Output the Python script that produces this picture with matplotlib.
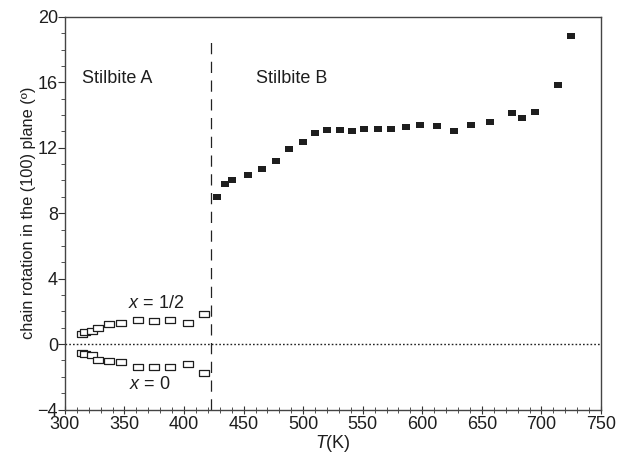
import numpy as np
import matplotlib
matplotlib.use('Agg')
import matplotlib.pyplot as plt
from matplotlib.ticker import MultipleLocator

plt.rcParams['font.family'] = ['Liberation Sans', 'DejaVu Sans']
plt.rcParams['mathtext.fontset'] = 'custom'
plt.rcParams['mathtext.it'] = 'Liberation Sans:italic'
plt.rcParams['mathtext.rm'] = 'Liberation Sans'

# Stilbite B (filled squares)
T_b = [428, 434.5, 440.5, 454, 465.5, 477, 488, 500, 510, 520, 530.5, 541, 551,
       563, 574, 586, 598, 612, 627, 641, 657, 675.5, 684, 694.5, 714, 725]
rot_b = [9.0, 9.8, 10.05, 10.35, 10.7, 11.2, 11.9, 12.35, 12.9, 13.1, 13.1, 13.05,
         13.15, 13.15, 13.15, 13.25, 13.4, 13.3, 13.05, 13.4, 13.55, 14.1, 13.8,
         14.2, 15.85, 18.8]

# Stilbite A (open squares), x = 1/2 and x = 0
T_a = [314, 317, 323, 327.5, 337, 347.5, 361.5, 375, 388, 403, 417]
rot_half = [0.64, 0.74, 0.77, 0.97, 1.2, 1.26, 1.48, 1.4, 1.48, 1.3, 1.81]
rot_zero = [-0.55, -0.63, -0.67, -0.98, -1.04, -1.1, -1.42, -1.4, -1.4, -1.22, -1.79]

T_trans = 423

# wide rectangle marker
rect = [(-1.4, -1), (1.4, -1), (1.4, 1), (-1.4, 1), (-1.4, -1)]

fig = plt.figure(figsize=(6.18, 4.54), dpi=100)
ax = fig.add_axes([0.105, 0.098, 0.8675, 0.865])

ax.axhline(0, color='#222222', lw=1.0, ls=(0, (1.2, 1.5)), zorder=1)
ax.plot([T_trans, T_trans], [-4, 18.9], color='#222222', lw=0.9,
        ls=(0, (9, 6)), zorder=1)

ax.plot(T_b, rot_b, ls='none', marker=rect, ms=5.5, color='#1e1e1e', mew=0)
ax.plot(T_a, rot_half, ls='none', marker=rect, ms=6.5, mfc='white',
        mec='#1e1e1e', mew=0.9)
ax.plot(T_a, rot_zero, ls='none', marker=rect, ms=6.5, mfc='white',
        mec='#1e1e1e', mew=0.9)

ax.text(314, 16.2, 'Stilbite A', fontsize=13, va='center', ha='left', color='#1e1e1e')
ax.text(460, 16.2, 'Stilbite B', fontsize=13, va='center', ha='left', color='#1e1e1e')
ax.text(353, 2.5, '$x$ = 1/2', fontsize=13, va='center', ha='left', color='#1e1e1e')
ax.text(354, -2.5, '$x$ = 0', fontsize=13, va='center', ha='left', color='#1e1e1e')

ax.set_xlim(300, 750)
ax.set_ylim(-4, 20)
ax.xaxis.set_major_locator(MultipleLocator(50))
ax.xaxis.set_minor_locator(MultipleLocator(10))
ax.yaxis.set_major_locator(MultipleLocator(4))
ax.yaxis.set_minor_locator(MultipleLocator(1))
ax.tick_params(axis='x', which='both', direction='inout', labelsize=13,
               colors='#333333', labelcolor='#1e1e1e', pad=2)
ax.tick_params(axis='x', which='major', length=6)
ax.tick_params(axis='x', which='minor', length=4)
ax.tick_params(axis='y', which='both', direction='out', labelsize=13,
               colors='#333333', labelcolor='#1e1e1e')
ax.tick_params(axis='y', which='major', length=5, pad=0)
ax.tick_params(axis='y', which='minor', length=3)
for s in ax.spines.values():
    s.set_color('#444444')
    s.set_linewidth(1.0)

ax.set_xlabel('$T$(K)', fontsize=13, labelpad=0, color='#1e1e1e')
ax.set_ylabel('chain rotation in the (100) plane (º)', fontsize=11.8,
              labelpad=1, color='#1e1e1e')

fig.savefig('out.png', dpi=100)
